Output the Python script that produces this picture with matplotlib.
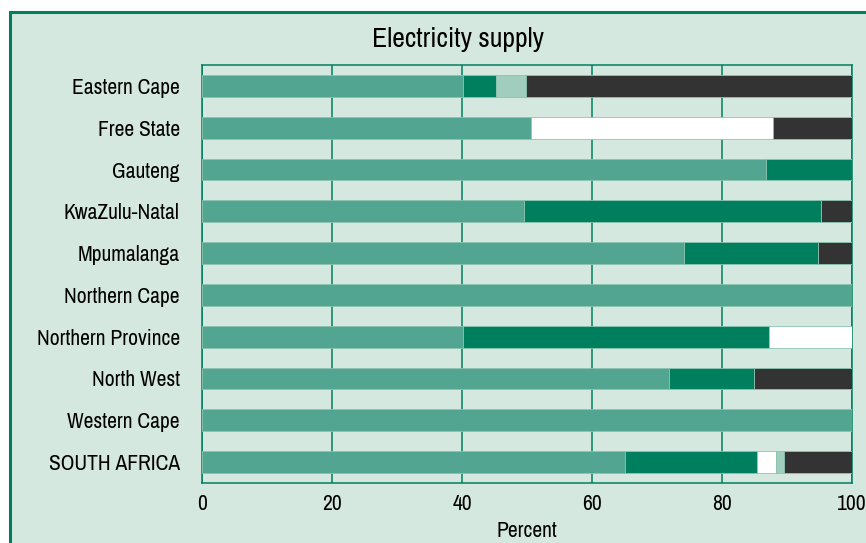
import matplotlib.pyplot as plt
from matplotlib import font_manager
from matplotlib.patches import Rectangle
import numpy as np

# pick a narrow sans if one is installed
names = sorted({f.name for f in font_manager.fontManager.ttflist})
narrow = [n for n in names if "Narrow" in n or "Condensed" in n]
plt.rcParams['font.family'] = narrow[:1] + ['Liberation Sans', 'DejaVu Sans']

provinces = ["Eastern Cape", "Free State", "Gauteng", "KwaZulu-Natal", "Mpumalanga",
             "Northern Cape", "Northern Province", "North West", "Western Cape", "SOUTH AFRICA"]

# percent shares per segment, left to right
seg_a = [40.1, 50.6, 86.7, 49.5, 74.2, 100.0, 40.1, 71.9, 100.0, 65.0]
seg_b = [5.1, 0.0, 13.3, 45.7, 20.5, 0.0, 47.2, 13.0, 0.0, 20.4]
seg_c = [0.0, 37.3, 0.0, 0.0, 0.0, 0.0, 12.7, 0.0, 0.0, 2.9]
seg_d = [4.6, 0.0, 0.0, 0.0, 0.0, 0.0, 0.0, 0.0, 0.0, 1.2]
seg_e = [50.2, 12.1, 0.0, 4.8, 5.3, 0.0, 0.0, 15.1, 0.0, 10.5]

colors = ["#52a590", "#007f5f", "#ffffff", "#a0cdbd", "#333333"]
bg = "#d5e8e0"
green = "#007f5f"

fig = plt.figure(figsize=(8.66, 5.43), dpi=100)
fig.patch.set_facecolor("white")

back = fig.add_axes([0, 0, 1, 1], zorder=-1)
back.axis("off")
back.add_patch(Rectangle((10 / 866, -0.02), 1.0, 0.978 + 0.02, transform=back.transAxes,
                         facecolor=bg, edgecolor=green, linewidth=2.2))

ax = fig.add_axes([202 / 866, 1 - 483 / 543, 650 / 866, 418 / 543])
ax.set_facecolor(bg)

y = np.arange(len(provinces))
left = np.zeros(len(provinces))
for vals, c in zip([seg_a, seg_b, seg_c, seg_d, seg_e], colors):
    vals = np.array(vals)
    ax.barh(y, vals, left=left, height=0.52, color=c, edgecolor="#8cc4b0",
            linewidth=0.6, zorder=3)
    left += vals

ax.set_xlim(0, 100)
ax.set_ylim(len(provinces) - 0.5, -0.5)
ax.set_xticks([0, 20, 40, 60, 80, 100])
ax.set_yticks(y)
ax.set_yticklabels(provinces, fontsize=15.5)
ax.tick_params(axis="x", labelsize=15.5, length=0, pad=8)
ax.tick_params(axis="y", length=0, pad=16)
ax.grid(axis="x", color=green, linewidth=1.1, zorder=1)
for s in ax.spines.values():
    s.set_color(green)
    s.set_linewidth(1.1)
ax.set_xlabel("Percent", fontsize=15.5, labelpad=5)
fig.text(0.5 + 25 / 866, 1 - 40 / 543, "Electricity supply", fontsize=20, ha="center", va="center")

fig.savefig("out.png", dpi=100)
